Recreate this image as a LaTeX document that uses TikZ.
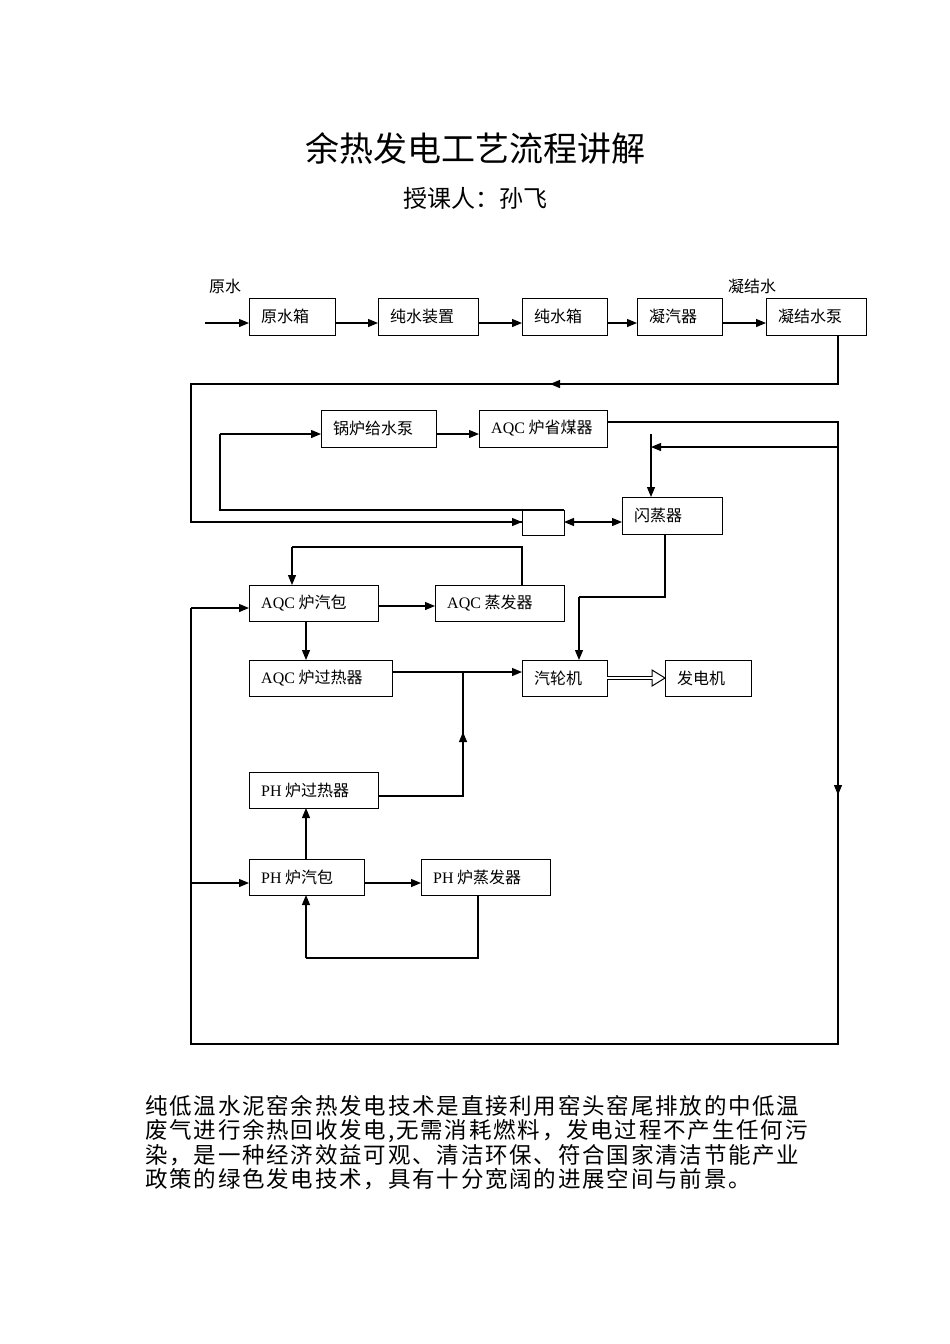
\documentclass[tikz,border=0pt]{standalone}
\usepackage{fontspec}
\setmainfont{Liberation Serif}
\newfontfamily\cjk{Noto Sans CJK SC}
\newfontfamily\cjkwide{Noto Sans CJK SC}[LetterSpace=8]
\usetikzlibrary{arrows.meta}
\newcommand{\la}[1]{{\rmfamily #1}}
\begin{document}
\begin{tikzpicture}[x=1pt,y=-1pt,
  box/.style={draw,line width=1pt,anchor=north west,inner sep=0pt,font=\cjk\fontsize{16}{18}\selectfont,align=left},
  ar/.style={line width=1.2pt,-{Triangle[length=10pt,width=8pt]}},
  ln/.style={line width=1.2pt}]
\useasboundingbox (0,0) rectangle (950,1344);
\node[font=\cjk\fontsize{34}{36}\selectfont] (title) at (475,148) {余热发电工艺流程讲解};
\node[font=\cjk\fontsize{24}{26}\selectfont] (sub) at (475,198) {授课人：孙飞};
% boxes
\newcommand{\bx}[6]{\node[box,minimum width=#4-#2,minimum height=#5-#3] (#1) at (#2,#3) {}; \node[anchor=west,font=\cjk\fontsize{16}{18}\selectfont,inner sep=0pt] at (#2+12,{(#3+#5)/2}) {#6};}
\bx{yxs}{249}{298}{335}{335}{原水箱}
\bx{csz}{378}{298}{478}{335}{纯水装置}
\bx{csx}{522}{298}{607}{335}{纯水箱}
\bx{nqq}{637}{298}{722}{335}{凝汽器}
\bx{njb}{766}{298}{866}{335}{凝结水泵}
\bx{glb}{321}{410}{436}{447}{锅炉给水泵}
\bx{smq}{479}{410}{607}{447}{\la{AQC} 炉省煤器}
\bx{sb}{522}{510}{564}{535}{}
\bx{szq}{622}{497}{722}{534}{闪蒸器}
\bx{aqb}{249}{585}{378}{621}{\la{AQC} 炉汽包}
\bx{aqz}{435}{585}{564}{621}{\la{AQC} 蒸发器}
\bx{aqg}{249}{660}{392}{696}{\la{AQC} 炉过热器}
\bx{qlj}{522}{660}{607}{696}{汽轮机}
\bx{fdj}{665}{660}{751}{696}{发电机}
\bx{phg}{249}{772}{378}{808}{\la{PH} 炉过热器}
\bx{phb}{249}{859}{364}{895}{\la{PH} 炉汽包}
\bx{phz}{421}{859}{550}{895}{\la{PH} 炉蒸发器}
\node[font=\cjk\fontsize{16}{18}\selectfont] (l1) at (225,286) {原水};
\node[font=\cjk\fontsize{16}{18}\selectfont] (l2) at (752,286) {凝结水};
% top row
\coordinate (in) at (205,323);
\draw[ar] (in) -- (yxs.west|-in);
\draw[ar] (335,323) -- (378,323);
\draw[ar] (478,323) -- (522,323);
\draw[ar] (607,323) -- (637,323);
\draw[ar] (722,323) -- (766,323);
% return from condensate pump
\coordinate (a1) at (838,384); \coordinate (a2) at (191,384); \coordinate (a3) at (191,522);
\draw[ln] (838,335) -- (a1) -- (a2) -- (a3) -- (522,522);
\draw[ar] (a1) -- (550,384);
\draw[ar] (a3) -- (522,522);
% small box to feed pump
\draw[ln] (564,510) -- (220,510) -- (220,434);
\draw[ar] (220,434) -- (321,434);
\draw[ar] (436,434) -- (479,434);
\draw[{Triangle[length=10pt,width=8pt]}-{Triangle[length=10pt,width=8pt]},line width=1.2pt] (564,522) -- (622,522);
% economizer loop
\draw[ln] (607,422) -- (838,422) -- (838,1044) -- (191,1044) -- (191,608);
\draw[ar] (838,422) -- (838,795);
\draw[ar] (838,447) -- (651,447);
\draw[ar] (651,434) -- (651,497);
\draw[ar] (191,608) -- (249,608);
\draw[ar] (191,883) -- (249,883);
% flash to turbine
\draw[ln] (665,534) -- (665,597) -- (579,597);
\draw[ar] (579,597) -- (579,660);
% AQC
\draw[ar] (378,606) -- (435,606);
\draw[ln] (522,585) -- (522,547) -- (292,547);
\draw[ar] (292,547) -- (292,585);
\draw[ar] (306,621) -- (306,660);
\draw[ar] (392,672) -- (522,672);
\draw[ln] (378,796) -- (463,796) -- (463,672);
\draw[ar] (463,796) -- (463,732);
% generator double arrow
\draw[line width=4pt] (607,678) -- (655,678);
\draw[white,line width=2pt] (606,678) -- (656,678);
\draw[line width=1pt,fill=white] (652,670) -- (665,678) -- (652,686) -- cycle;
\fill[white] (651,677) rectangle (654,679);
% PH
\draw[ar] (306,859) -- (306,808);
\draw[ar] (364,883) -- (421,883);
\draw[ln] (478,895) -- (478,958) -- (306,958);
\draw[ar] (306,958) -- (306,895);
% paragraph
\node[anchor=north west,inner sep=0pt,font=\cjkwide\fontsize{22.5}{24.5}\selectfont,align=left] (para) at (145,1095) {纯低温水泥窑余热发电技术是直接利用窑头窑尾排放的中低温\\废气进行余热回收发电,无需消耗燃料，发电过程不产生任何污\\染，是一种经济效益可观、清洁环保、符合国家清洁节能产业\\政策的绿色发电技术，具有十分宽阔的进展空间与前景。};
\end{tikzpicture}
\end{document}
